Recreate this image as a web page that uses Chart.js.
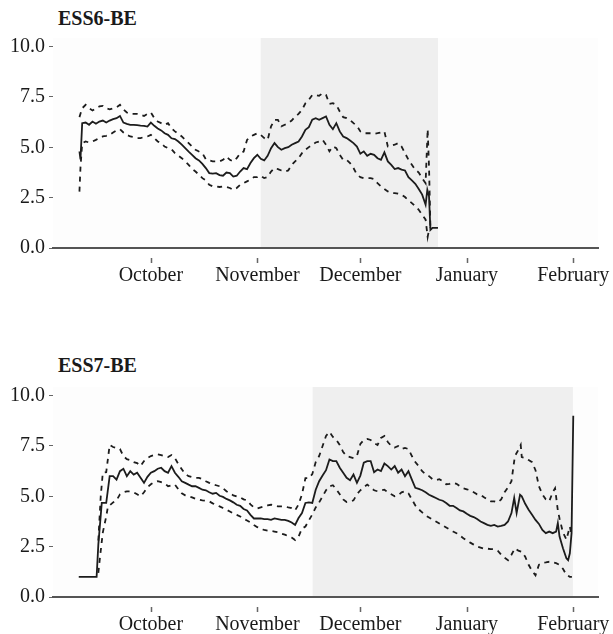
<!DOCTYPE html>
<html>
<head>
<meta charset="utf-8">
<script src="https://cdn.jsdelivr.net/npm/chart.js@4/dist/chart.umd.min.js"></script>
<style>
  html, body { margin: 0; padding: 0; background: #fff; overflow: hidden; width: 613px; height: 634px; }
  .panel-title { position: absolute; left: 58px; font: bold 20px "Liberation Serif", serif; color: #1a1a1a; line-height: 20px; }
  canvas { position: absolute; left: 0; }
</style>
</head>
<body>
<div class="panel-title" style="top: 8px;">ESS6-BE</div>
<canvas id="ess6Chart" width="613" height="295" style="top: 0px;"></canvas>
<div class="panel-title" style="top: 355px;">ESS7-BE</div>
<canvas id="ess7Chart" width="613" height="295" style="top: 349px;"></canvas>
<script>
// x values are days counted from 1 October
const monthDays = [0, 31, 61, 92, 123];
const monthLabels = ["October", "November", "December", "January", "February"];
const yTicks = [0, 2.5, 5, 7.5, 10];

// fieldwork periods shaded in grey
const ess6Shade = [32, 83.6];
const ess7Shade = [47.1, 122.9];

const ess6Mean = [[-20.8,4.8],[-20.5,4.4],[-20,6.2],[-19,6.23],[-18,6.12],[-17,6.28],[-16,6.17],[-15,6.28],[-14,6.33],[-13,6.23],[-12,6.33],[-11,6.4],[-10,6.45],[-9,6.56],[-8,6.23],[-7,6.17],[-6,6.12],[-5,6.12],[-4,6.1],[-3,6.08],[-2,6.07],[-1,6.03],[0,6.23],[1,6.07],[2,5.94],[3,5.84],[4,5.7],[5,5.62],[6,5.45],[7,5.41],[8,5.29],[9,5.13],[10,4.96],[11,4.79],[12,4.63],[13,4.46],[14,4.35],[15,4.18],[16,3.97],[17,3.72],[18,3.69],[19,3.72],[20,3.62],[21,3.59],[22,3.75],[23,3.72],[24,3.55],[25,3.59],[26,3.8],[27,3.97],[28,3.92],[29,4.22],[30,4.46],[31,4.63],[32,4.43],[33,4.35],[34,4.58],[35,4.96],[36,5.21],[37,5.01],[38,4.88],[39,4.96],[40,5.01],[41,5.13],[42,5.21],[43,5.29],[44,5.54],[45,5.87],[46,6.0],[47,6.37],[48,6.45],[49,6.37],[50,6.45],[51,6.53],[52,6.12],[53,5.9],[54,6.2],[55,5.79],[56,5.54],[57,5.46],[58,5.34],[59,5.21],[60,5.04],[61,4.68],[62,4.8],[63,4.58],[64,4.68],[65,4.63],[66,4.46],[67,4.38],[68,4.75],[69,4.3],[70,4.13],[71,3.92],[72,3.97],[73,3.89],[74,3.85],[75,3.52],[76,3.36],[77,3.19],[78,2.93],[79,2.65],[80,2.15],[80.5,2.89],[81,2.56],[81.4,0.9],[82,1.0],[83.6,1.0]];
const ess6Upper = [[-20.8,6.5],[-20,6.94],[-19,7.11],[-18,6.94],[-17,6.83],[-16,6.94],[-15,7.03],[-14,7.06],[-13,6.94],[-12,6.89],[-11,6.94],[-10,6.99],[-9,7.11],[-8,6.89],[-7,6.73],[-6,6.66],[-5,6.66],[-4,6.66],[-3,6.61],[-2,6.56],[-1,6.66],[0,6.73],[1,6.45],[2,6.28],[3,6.2],[4,6.12],[5,6.2],[6,5.95],[7,5.79],[8,5.67],[9,5.54],[10,5.37],[11,5.21],[12,5.04],[13,4.88],[14,4.79],[15,4.71],[16,4.41],[17,4.35],[18,4.3],[19,4.3],[20,4.3],[21,4.38],[22,4.55],[23,4.38],[24,4.3],[25,4.46],[26,4.71],[27,4.79],[28,5.37],[29,5.54],[30,5.62],[31,5.7],[32,5.62],[33,5.46],[34,5.37],[35,6.04],[36,6.36],[37,6.36],[38,6.04],[39,6.12],[40,6.2],[41,6.33],[42,6.53],[43,6.66],[44,6.86],[45,7.19],[46,7.36],[47,7.6],[48,7.6],[49,7.56],[50,7.69],[51,7.6],[52,7.16],[53,7.19],[54,7.11],[55,6.78],[56,6.5],[57,6.45],[58,6.36],[59,6.2],[60,6.07],[61,5.79],[62,5.7],[63,5.7],[64,5.7],[65,5.67],[66,5.7],[67,5.74],[68,5.79],[69,5.04],[70,5.08],[71,5.13],[72,5.21],[73,5.04],[74,4.71],[75,4.38],[76,4.13],[77,3.89],[78,3.75],[79,3.47],[80,3.22],[80.6,5.9],[81,4.0],[81.4,1.0]];
const ess6Lower = [[-20.8,2.8],[-20.5,4.0],[-20,5.2],[-19,5.29],[-18,5.24],[-17,5.29],[-16,5.37],[-15,5.46],[-14,5.54],[-13,5.57],[-12,5.62],[-11,5.74],[-10,5.84],[-9,5.9],[-8,5.74],[-7,5.62],[-6,5.54],[-5,5.51],[-4,5.46],[-3,5.46],[-2,5.51],[-1,5.54],[0,5.62],[1,5.46],[2,5.29],[3,5.21],[4,5.04],[5,4.96],[6,4.91],[7,4.71],[8,4.58],[9,4.46],[10,4.3],[11,4.13],[12,3.92],[13,3.8],[14,3.64],[15,3.47],[16,3.36],[17,3.14],[18,3.06],[19,3.06],[20,3.03],[21,3.06],[22,3.03],[23,2.98],[24,2.89],[25,2.98],[26,3.14],[27,3.22],[28,3.31],[29,3.39],[30,3.52],[31,3.52],[32,3.59],[33,3.47],[34,3.52],[35,3.8],[36,3.97],[37,3.92],[38,3.85],[39,3.8],[40,3.85],[41,4.13],[42,4.3],[43,4.46],[44,4.71],[45,4.88],[46,5.01],[47,5.13],[48,5.24],[49,5.29],[50,5.37],[51,5.13],[52,4.8],[53,5.04],[54,4.96],[55,4.63],[56,4.38],[57,4.38],[58,4.22],[59,3.97],[60,3.64],[61,3.52],[62,3.47],[63,3.47],[64,3.47],[65,3.42],[66,3.22],[67,3.06],[68,2.93],[69,2.81],[70,2.73],[71,2.73],[72,2.7],[73,2.65],[74,2.53],[75,2.37],[76,2.23],[77,2.07],[78,1.9],[79,1.65],[80,1.41],[80.6,0.55],[81,0.9],[81.4,1.0]];

const ess7Mean = [[-21,1.0],[-15.8,1.0],[-15.3,2.6],[-14.3,4.67],[-13,4.67],[-12,6.0],[-11,6.0],[-10,5.83],[-9,6.25],[-8,6.37],[-7,6.0],[-6,6.25],[-5,6.08],[-4,6.17],[-3,5.92],[-2,5.67],[-1,5.97],[0,6.17],[1,6.25],[2,6.37],[3,6.42],[4,6.25],[5,6.17],[6,6.5],[7,6.17],[8,5.97],[9,5.75],[10,5.67],[11,5.58],[12,5.5],[13,5.5],[14,5.42],[15,5.33],[16,5.3],[17,5.2],[18,5.13],[19,5.17],[20,5.03],[21,4.97],[22,4.87],[23,4.8],[24,4.7],[25,4.58],[26,4.53],[27,4.37],[28,4.3],[29,4.08],[30,3.9],[31,3.9],[32,3.9],[33,3.87],[34,3.87],[35,3.83],[36,3.9],[37,3.87],[38,3.83],[39,3.83],[40,3.78],[41,3.7],[42,3.58],[43,3.92],[44,4.17],[45,4.67],[46,4.7],[47,4.67],[48,5.33],[49,5.75],[50,6.03],[51,6.3],[52,6.83],[53,6.75],[54,6.75],[55,6.42],[56,6.17],[57,5.92],[58,5.8],[59,6.08],[60,5.67],[61,6.03],[62,6.67],[63,6.75],[64,6.75],[65,6.2],[66,6.33],[67,6.25],[68,6.63],[69,6.5],[70,6.33],[71,6.5],[72,6.17],[73,6.33],[74,6.0],[75,6.25],[76,5.83],[77,5.42],[78,5.37],[79,5.3],[80,5.2],[81,5.08],[82,5.0],[83,4.92],[84,4.83],[85,4.78],[86,4.67],[87,4.53],[88,4.53],[89,4.42],[90,4.3],[91,4.25],[92,4.13],[93,4.03],[94,3.97],[95,3.87],[96,3.75],[97,3.67],[98,3.58],[99,3.53],[100,3.58],[101,3.5],[102,3.53],[103,3.58],[104,3.75],[105,4.17],[105.8,4.92],[106.5,4.17],[107.5,5.08],[108,5.0],[109,4.63],[110,4.33],[111,4.08],[112,3.83],[113,3.63],[114,3.33],[115,3.17],[116,3.25],[117,3.17],[118,3.25],[118.5,3.67],[119,3.0],[120,2.42],[121,1.92],[121.5,1.83],[122,2.17],[122.5,3.17],[123,9.0]];
const ess7Upper = [[-15.3,2.8],[-14.6,5.0],[-14,6.17],[-13,6.2],[-12,7.55],[-11,7.45],[-10,7.4],[-9,7.35],[-8,7.0],[-7,6.85],[-6,6.8],[-5,6.7],[-4,6.65],[-3,6.5],[-2,6.75],[-1,6.9],[0,7.0],[1,7.05],[2,7.08],[3,7.05],[4,7.0],[5,6.95],[6,7.05],[7,6.9],[8,6.6],[9,6.35],[10,6.1],[11,6.0],[12,5.95],[13,5.92],[14,5.92],[15,5.85],[16,5.75],[17,5.67],[18,5.6],[19,5.55],[20,5.5],[21,5.4],[22,5.25],[23,5.15],[24,5.05],[25,5.0],[26,4.95],[27,4.85],[28,4.8],[29,4.6],[30,4.45],[31,4.4],[32,4.45],[33,4.5],[34,4.55],[35,4.58],[36,4.55],[37,4.5],[38,4.5],[39,4.5],[40,4.45],[41,4.42],[42,4.3],[43,4.6],[44,5.1],[45,5.9],[46,5.9],[47,6.1],[48,6.7],[49,7.0],[50,7.5],[51,8.0],[52,8.2],[53,7.95],[54,7.8],[55,7.55],[56,7.2],[57,7.0],[58,6.95],[59,6.9],[60,7.0],[61,7.6],[62,7.8],[63,7.85],[64,7.8],[65,7.65],[66,7.55],[67,7.9],[68,8.0],[69,7.7],[70,7.5],[71,7.42],[72,7.5],[73,7.35],[74,7.4],[75,7.35],[76,7.0],[77,6.7],[78,6.5],[79,6.25],[80,6.1],[81,6.0],[82,5.85],[83,5.8],[84,5.85],[85,5.75],[86,5.6],[87,5.62],[88,5.67],[89,5.62],[90,5.5],[91,5.4],[92,5.35],[93,5.3],[94,5.2],[95,5.1],[96,5.08],[97,4.95],[98,4.85],[99,4.75],[100,4.75],[101,4.7],[102,4.85],[103,5.2],[104,5.45],[105,5.75],[106,7.0],[107,7.3],[107.7,7.55],[108,6.95],[109,6.9],[110,6.8],[111,6.7],[112,6.3],[113,5.5],[114,5.1],[115,4.85],[116,4.75],[117,5.2],[117.7,5.4],[118.5,4.3],[119,3.9],[120,3.2],[121,2.85],[122,3.5],[122.6,3.0]];
const ess7Lower = [[-15.3,1.2],[-14.8,2.0],[-14,3.2],[-13,4.0],[-12.5,4.5],[-12,4.55],[-11,4.7],[-10,4.8],[-9,5.1],[-8,5.2],[-7,5.25],[-6,5.25],[-5,5.2],[-4,5.1],[-3,5.0],[-2,5.2],[-1,5.45],[0,5.6],[1,5.7],[2,5.75],[3,5.7],[4,5.65],[5,5.5],[6,5.55],[7,5.58],[8,5.35],[9,5.15],[10,5.05],[11,5.0],[12,4.95],[13,4.88],[14,4.83],[15,4.8],[16,4.78],[17,4.75],[18,4.65],[19,4.58],[20,4.5],[21,4.42],[22,4.33],[23,4.25],[24,4.15],[25,4.08],[26,4.0],[27,3.88],[28,3.8],[29,3.7],[30,3.58],[31,3.47],[32,3.38],[33,3.33],[34,3.3],[35,3.28],[36,3.25],[37,3.22],[38,3.15],[39,3.1],[40,3.02],[41,2.95],[42,2.83],[43,3.0],[44,3.4],[45,3.5],[46,3.8],[47,4.1],[48,4.45],[49,4.7],[50,5.0],[51,5.3],[52,5.5],[53,5.55],[54,5.35],[55,5.1],[56,4.85],[57,4.72],[58,4.75],[59,4.8],[60,5.1],[61,5.3],[62,5.45],[63,5.58],[64,5.45],[65,5.3],[66,5.25],[67,5.3],[68,5.33],[69,5.2],[70,5.1],[71,5.0],[72,5.05],[73,5.2],[74,5.25],[75,5.15],[76,4.85],[77,4.55],[78,4.35],[79,4.2],[80,4.05],[81,3.95],[82,3.85],[83,3.75],[84,3.65],[85,3.55],[86,3.45],[87,3.35],[88,3.25],[89,3.17],[90,3.05],[91,2.92],[92,2.8],[93,2.7],[94,2.6],[95,2.5],[96,2.45],[97,2.4],[98,2.4],[99,2.38],[100,2.37],[101,2.3],[102,2.1],[103,1.95],[104,1.83],[105,2.1],[106,2.42],[107,2.3],[108,2.25],[109,2.0],[110,1.6],[111,1.3],[112,1.08],[113,1.6],[114,1.7],[115,1.72],[116,1.75],[117,1.72],[118,1.68],[119,1.6],[120,1.4],[121,1.1],[122,1.0],[122.6,1.0]];

const serif = "'Liberation Serif', 'Times New Roman', serif";

// grey band behind the lines for the fieldwork period
const shadePlugin = {
  id: "shade",
  beforeDraw(chart, args, opts) {
    const area = chart.chartArea;
    const x = chart.scales.x;
    const x0 = x.getPixelForValue(opts.from);
    const x1 = x.getPixelForValue(opts.to);
    const ctx = chart.ctx;
    ctx.save();
    ctx.fillStyle = "#fdfdfd";
    ctx.fillRect(area.left, area.top, area.right - area.left, area.bottom - area.top);
    ctx.fillStyle = opts.color;
    ctx.fillRect(x0, area.top, x1 - x0, area.bottom - area.top);
    ctx.restore();
  },
  // short month tick marks sitting a little below the axis line
  afterDraw(chart) {
    const x = chart.scales.x;
    const ctx = chart.ctx;
    ctx.save();
    ctx.strokeStyle = "#666";
    ctx.lineWidth = 1.5;
    ctx.beginPath();
    x.ticks.forEach(function (t) {
      const px = Math.round(x.getPixelForValue(t.value)) + 0.5;
      ctx.moveTo(px, x.top + 10);
      ctx.lineTo(px, x.top + 15);
    });
    ctx.stroke();
    ctx.restore();
  }
};

function toPoints(pairs) {
  return pairs.map(function (p) { return { x: p[0], y: p[1] }; });
}

function makeChart(canvasId, mean, lower, upper, shade) {
  const lineStyle = { borderColor: "#1c1c1c", pointRadius: 0, tension: 0, fill: false };
  return new Chart(document.getElementById(canvasId), {
    type: "line",
    data: {
      datasets: [
        Object.assign({ label: "upper", data: toPoints(upper), borderWidth: 1.8, borderDash: [5, 5] }, lineStyle),
        Object.assign({ label: "lower", data: toPoints(lower), borderWidth: 1.8, borderDash: [5, 5] }, lineStyle),
        Object.assign({ label: "mean", data: toPoints(mean), borderWidth: 1.8 }, lineStyle)
      ]
    },
    plugins: [shadePlugin],
    options: {
      responsive: false,
      animation: false,
      layout: { padding: { left: 0, right: 15, top: 38, bottom: 0 } },
      plugins: {
        legend: { display: false },
        tooltip: { enabled: false },
        shade: { from: shade[0], to: shade[1], color: "#efefef" }
      },
      scales: {
        x: {
          type: "linear",
          min: -28.5,
          max: 130.2,
          afterBuildTicks: function (scale) {
            scale.ticks = monthDays.map(function (d) { return { value: d }; });
          },
          afterFit: function (scale) { scale.height = 47; },
          ticks: {
            autoSkip: false,
            maxRotation: 0,
            padding: 1,
            color: "#1a1a1a",
            font: { family: serif, size: 20 },
            callback: function (value, index) { return monthLabels[index]; }
          },
          grid: {
            drawOnChartArea: false,
            drawTicks: true,
            tickLength: 15,
            tickColor: "rgba(0,0,0,0)"
          },
          border: { display: true, color: "#555", width: 2 }
        },
        y: {
          min: 0,
          max: 10.43,
          afterBuildTicks: function (scale) {
            scale.ticks = yTicks.map(function (v) { return { value: v }; });
          },
          afterFit: function (scale) { scale.width = 53; },
          ticks: {
            padding: 4,
            color: "#1a1a1a",
            font: { family: serif, size: 20 },
            callback: function (value) { return Number(value).toFixed(1); }
          },
          grid: {
            drawOnChartArea: false,
            drawTicks: true,
            tickLength: 4,
            tickColor: "#666",
            tickWidth: 1
          },
          border: { display: false }
        }
      }
    }
  });
}

makeChart("ess6Chart", ess6Mean, ess6Lower, ess6Upper, ess6Shade);
makeChart("ess7Chart", ess7Mean, ess7Lower, ess7Upper, ess7Shade);
</script>
</body>
</html>
